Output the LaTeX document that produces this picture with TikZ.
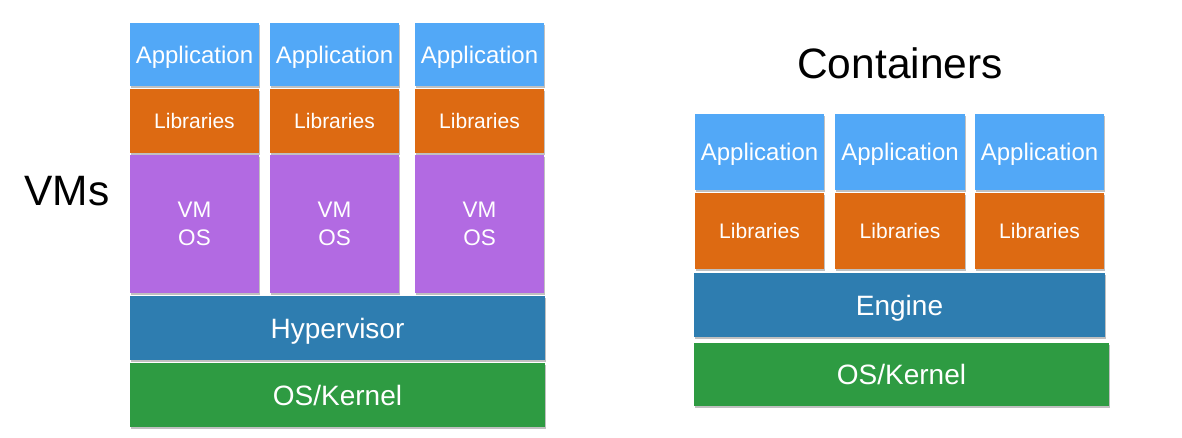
\documentclass[tikz,border=0pt]{standalone}
\usepackage{fontspec}
\setmainfont{Liberation Sans}
\usetikzlibrary{shadows}
\definecolor{appblue}{HTML}{52A8F7}
\definecolor{liborange}{HTML}{DD6A12}
\definecolor{vmpurple}{HTML}{B26AE2}
\definecolor{hypblue}{HTML}{2E7DB0}
\definecolor{osgreen}{HTML}{2E9B42}
\tikzset{
  layer/.style={anchor=north west, inner sep=0pt, outer sep=0pt, text=white,
    text depth=0pt, align=center,
    drop shadow={shadow xshift=1pt, shadow yshift=-1.5pt, opacity=0.35, fill=black!70}},
  appbox/.style={layer, fill=appblue, font=\fontsize{24}{28}\selectfont},
  libbox/.style={layer, fill=liborange, font=\fontsize{21}{25}\selectfont},
  vmbox/.style={layer, fill=vmpurple, font=\fontsize{22.5}{28}\selectfont},
  hypbox/.style={layer, fill=hypblue, font=\fontsize{28}{32}\selectfont},
  osbox/.style={layer, fill=osgreen, font=\fontsize{28}{32}\selectfont},
  title/.style={inner sep=0pt, text depth=0pt, font=\fontsize{42.5}{48}\selectfont}
}
\begin{document}
\begin{tikzpicture}[x=1pt,y=-1pt]
\useasboundingbox[fill=white] (0,0) rectangle (1182,437);
% ---- VMs ----
\node[title] (vmtitle) at (67,191) {VMs};
\node[appbox, minimum width=129pt, minimum height=63pt] (a1) at (130,23) {Application};
\node[appbox, minimum width=129pt, minimum height=63pt] (a2) at (270,23) {Application};
\node[appbox, minimum width=129pt, minimum height=63pt] (a3) at (415,23) {Application};
\node[libbox, minimum width=129pt, minimum height=64pt] (l1) at (130,89) {Libraries};
\node[libbox, minimum width=129pt, minimum height=64pt] (l2) at (270,89) {Libraries};
\node[libbox, minimum width=129pt, minimum height=64pt] (l3) at (415,89) {Libraries};
\node[vmbox, minimum width=129pt, minimum height=138pt] (v1) at (130,155) {VM\\OS};
\node[vmbox, minimum width=129pt, minimum height=138pt] (v2) at (270,155) {VM\\OS};
\node[vmbox, minimum width=129pt, minimum height=138pt] (v3) at (415,155) {VM\\OS};
\node[hypbox, minimum width=415pt, minimum height=64pt] (hyp) at (130,296) {Hypervisor};
\node[osbox, minimum width=415pt, minimum height=64pt] (os1) at (130,363) {OS/Kernel};
% ---- Containers ----
\node[title] (cttitle) at (900,63) {Containers};
\node[appbox, minimum width=129pt, minimum height=76pt] (ca1) at (695,114) {Application};
\node[appbox, minimum width=130pt, minimum height=76pt] (ca2) at (835,114) {Application};
\node[appbox, minimum width=129pt, minimum height=76pt] (ca3) at (975,114) {Application};
\node[libbox, minimum width=129pt, minimum height=76pt] (cl1) at (695,193) {Libraries};
\node[libbox, minimum width=130pt, minimum height=76pt] (cl2) at (835,193) {Libraries};
\node[libbox, minimum width=129pt, minimum height=76pt] (cl3) at (975,193) {Libraries};
\node[hypbox, minimum width=411pt, minimum height=64pt] (eng) at (694,273) {Engine};
\node[osbox, minimum width=415pt, minimum height=63pt] (os2) at (694,343) {OS/Kernel};
\end{tikzpicture}
\end{document}
